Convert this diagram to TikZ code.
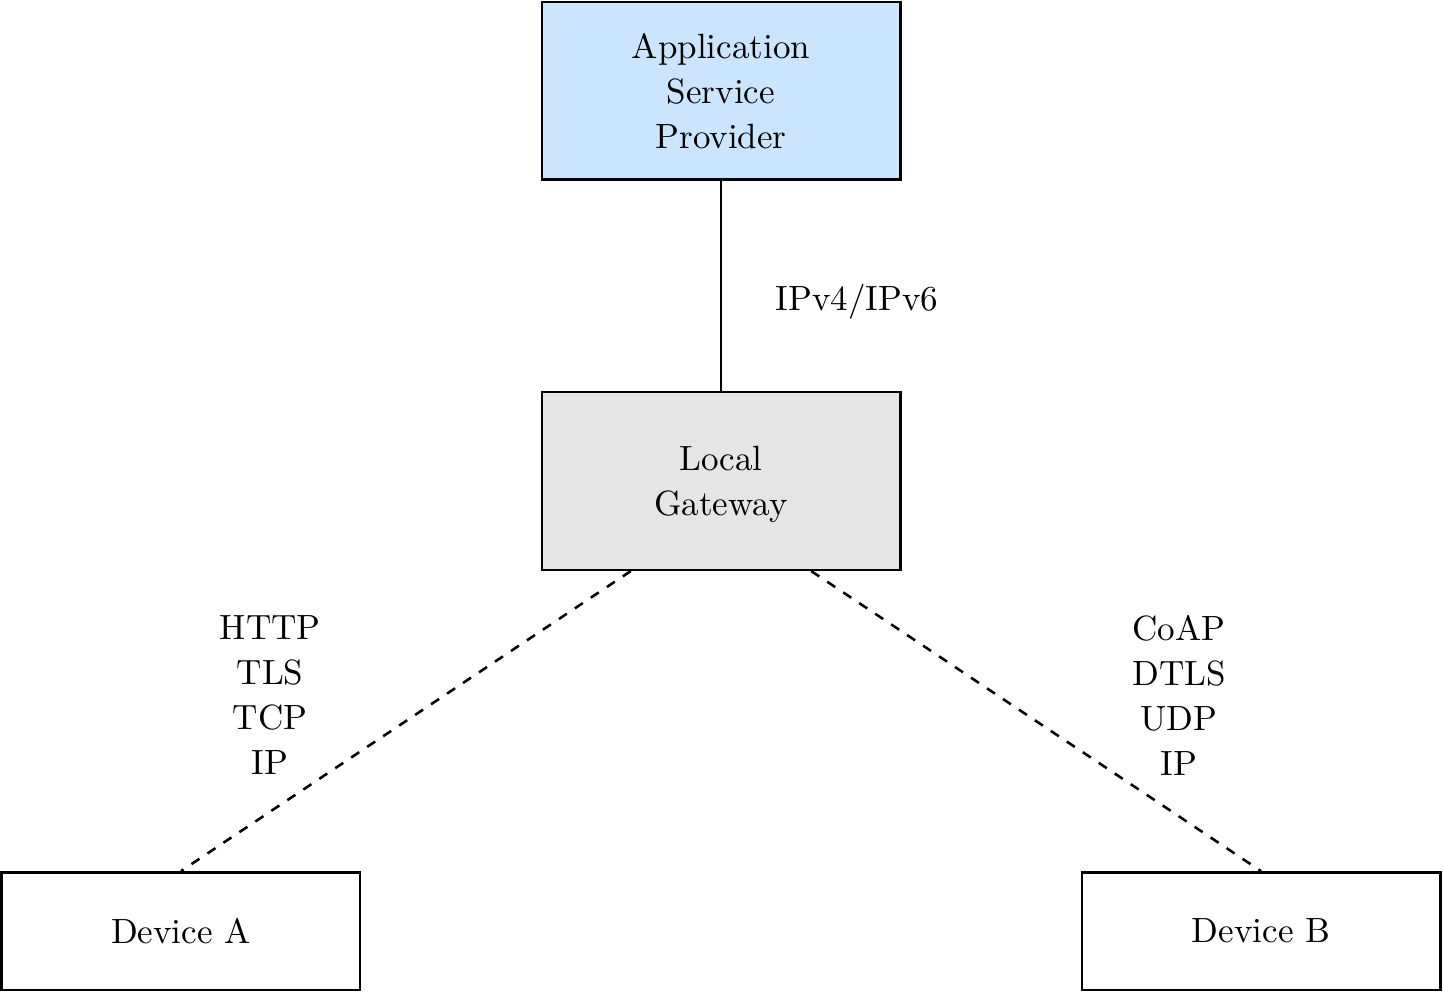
\documentclass[tikz,border=0pt,11pt]{standalone}
\usepackage{pgf}
\usetikzlibrary{arrows,positioning,calc}
\definecolor{asplue}{RGB}{204,229,255}
\linespread{1.035}
\begin{document}
\begin{tikzpicture}[x=1pt,y=1pt]
				\tikzset{box/.style = {shape=rectangle, thick, draw, align=center, minimum width=112pt}}
				\tikzset{link/.style = {thick}}
				\useasboundingbox (0,0) rectangle (450.9,-310.3);
				\node[box, fill=asplue, minimum height=55.5pt] (ASP) at (225.3,-28.4)
				{Application \\ Service \\ Provider};
				\node[box, fill=black!10, minimum height=55.5pt, below=65.6pt of ASP, text depth=0pt] (GATEWAY)
				{Local \\ Gateway};
				\node[box, minimum height=36.7pt, below=93.75pt of GATEWAY, xshift=-168.75pt] (DEVA) {Device A};
				\node[box, minimum height=36.7pt, below=93.75pt of GATEWAY, xshift=168.75pt] (DEVB) {Device B};
				
				\draw[link] (ASP) -- node[midway, right=13pt, yshift=-5pt] (IPLABEL) {IPv4/IPv6} (GATEWAY);
				\draw[link, dashed] ($(GATEWAY.south)!0.5!(GATEWAY.south west)$) -- (DEVA.north);
				\draw[link, dashed] ($(GATEWAY.south)!0.5!(GATEWAY.south east)$) -- (DEVB.north);
				
				\node[align=center] (STACKA) at (84.4,-217.2) {HTTP \\ TLS \\ TCP \\ IP};
				\node[align=center] (STACKB) at (368.4,-217.2) {CoAP \\ DTLS \\ UDP \\ IP};
				\end{tikzpicture}
\end{document}
